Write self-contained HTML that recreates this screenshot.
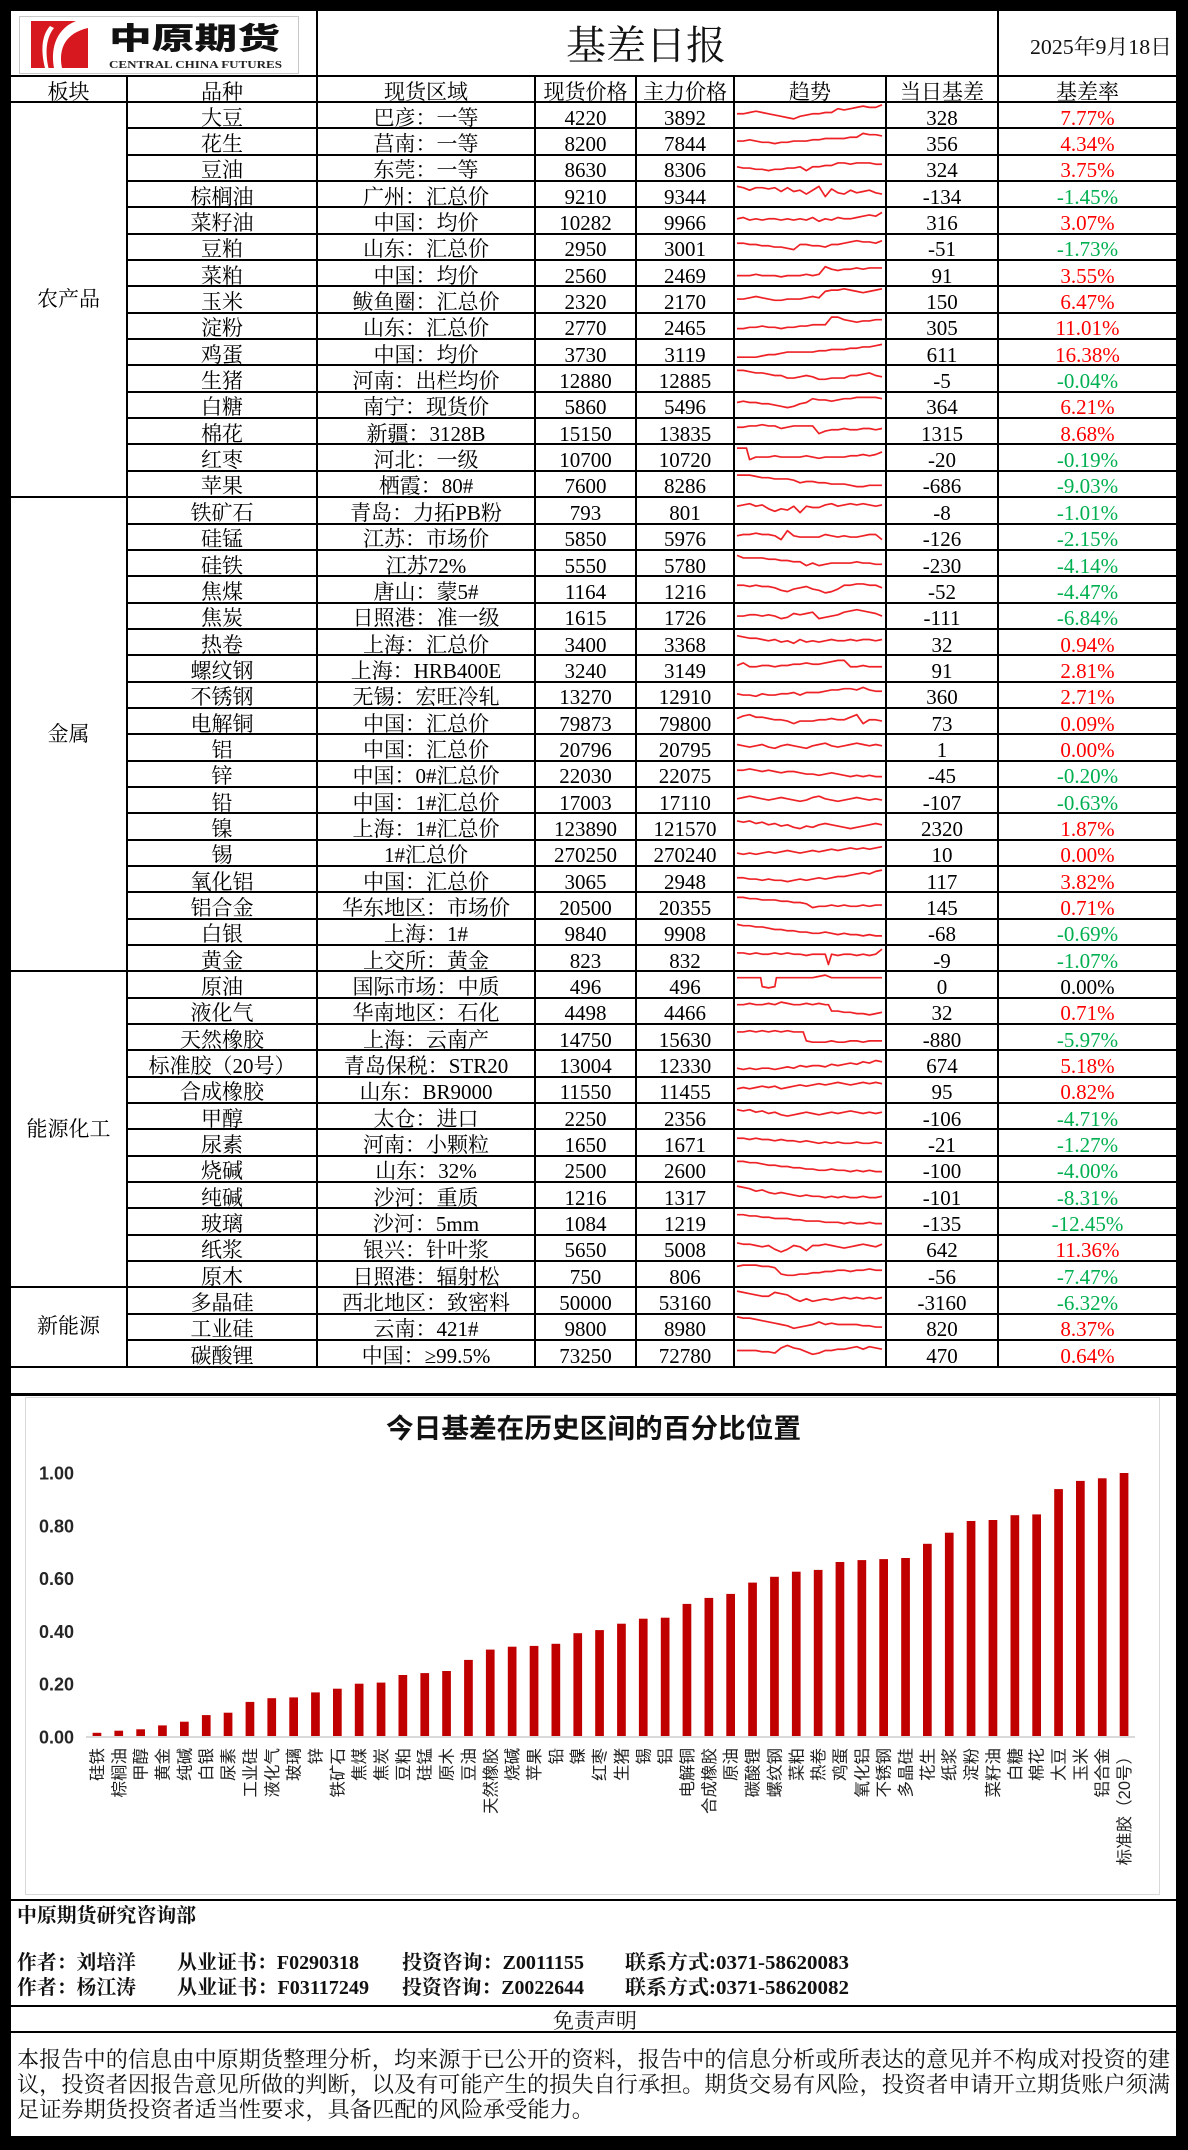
<!DOCTYPE html>
<html><head><meta charset="utf-8">
<style>
*{margin:0;padding:0;box-sizing:border-box}
html,body{width:1188px;height:2150px;background:#000;overflow:hidden;position:relative}
.panel{position:absolute;left:11px;top:11px;width:1165px;height:2125px;background:#fff}
.grid{position:absolute;left:11px;top:75px;width:1165px;height:1293px;background:#000;display:grid;
 grid-template-columns:115px 188px 216px 99px 96px 150px 110px 177px;
 grid-template-rows:24px repeat(48,24.354px);gap:2px;padding:2px 0;}
.grid>div{background:#fff;display:flex;align-items:center;justify-content:center;font-family:"Liberation Serif","Noto Serif CJK SC",serif;font-size:21px;color:#000;line-height:1;white-space:nowrap;position:relative;padding-top:6px;overflow:visible}
.grid>div.b{padding-top:0;font-size:21px}
.r{color:#f00!important}.g{color:#00b050!important}
.s svg{position:absolute;left:2px;top:-2px;width:145px;height:23px;overflow:visible}
.s polyline{fill:none;stroke:#ee2226;stroke-width:1.7;vector-effect:non-scaling-stroke;stroke-linejoin:round}
svg.ov{position:absolute;left:0;top:0}
</style></head><body>
<div class="panel"></div>
<div class="grid">
<div>板块</div><div>品种</div><div>现货区域</div><div>现货价格</div><div>主力价格</div><div>趋势</div><div>当日基差</div><div>基差率</div>

<div class="b" style="grid-row:span 15">农产品</div>
<div>大豆</div><div>巴彦：一等</div><div>4220</div><div>3892</div><div class="s"><svg viewBox="0 0 46 18" preserveAspectRatio="none"><polyline points="0,10 2,10 4,9 6,8 8,9 10,10 12,11 14,12 16,13 18,14 20,12 22,11 24,10 26,10 28,9 30,9 32,6 34,7 36,6 38,5 40,4 42,5 44,5 46,3"/></svg></div><div>328</div><div class="r">7.77%</div>
<div>花生</div><div>莒南：一等</div><div>8200</div><div>7844</div><div class="s"><svg viewBox="0 0 46 18" preserveAspectRatio="none"><polyline points="0,11 2,11 4,10 6,11 8,12 10,12 12,13 14,12 16,12 18,11 20,11 22,11 24,10 26,10 28,9 30,9 32,9 34,9 36,8 38,8 40,5 42,6 44,6 46,7"/></svg></div><div>356</div><div class="r">4.34%</div>
<div>豆油</div><div>东莞：一等</div><div>8630</div><div>8306</div><div class="s"><svg viewBox="0 0 46 18" preserveAspectRatio="none"><polyline points="0,10 2,11 4,11 6,12 8,12 10,13 12,12 14,12 16,11 18,11 20,10 22,13 24,10 26,10 28,9 30,9 32,7 34,7 36,8 38,7 40,7 42,7 44,8 46,8"/></svg></div><div>324</div><div class="r">3.75%</div>
<div>棕榈油</div><div>广州：汇总价</div><div>9210</div><div>9344</div><div class="s"><svg viewBox="0 0 46 18" preserveAspectRatio="none"><polyline points="0,5 2,6 4,8 6,6 8,6 10,7 12,6 14,9 16,6 18,9 20,8 22,11 24,8 26,5 28,13 30,7 32,10 34,11 36,8 38,10 40,9 42,8 44,10 46,11"/></svg></div><div>-134</div><div class="g">-1.45%</div>
<div>菜籽油</div><div>中国：均价</div><div>10282</div><div>9966</div><div class="s"><svg viewBox="0 0 46 18" preserveAspectRatio="none"><polyline points="0,10 2,9 4,11 6,10 8,11 10,10 12,10 14,11 16,10 18,11 20,10 22,11 24,9 26,12 28,10 30,11 32,9 34,10 36,10 38,9 40,8 42,7 44,8 46,5"/></svg></div><div>316</div><div class="r">3.07%</div>
<div>豆粕</div><div>山东：汇总价</div><div>2950</div><div>3001</div><div class="s"><svg viewBox="0 0 46 18" preserveAspectRatio="none"><polyline points="0,8 2,8 4,9 6,9 8,10 10,10 12,11 14,11 16,12 18,13 20,9 22,9 24,10 26,10 28,11 30,9 32,9 34,8 36,7 38,6 40,7 42,7 44,8 46,6"/></svg></div><div>-51</div><div class="g">-1.73%</div>
<div>菜粕</div><div>中国：均价</div><div>2560</div><div>2469</div><div class="s"><svg viewBox="0 0 46 18" preserveAspectRatio="none"><polyline points="0,13 2,13 4,13 6,12 8,13 10,13 12,13 14,14 16,13 18,13 20,13 22,12 24,13 26,12 28,6 30,8 32,9 34,8 36,8 38,7 40,8 42,7 44,7 46,7"/></svg></div><div>91</div><div class="r">3.55%</div>
<div>玉米</div><div>鲅鱼圈：汇总价</div><div>2320</div><div>2170</div><div class="s"><svg viewBox="0 0 46 18" preserveAspectRatio="none"><polyline points="0,11 2,11 4,10 6,9 8,10 10,11 12,12 14,12 16,11 18,11 20,11 22,10 24,9 26,10 28,5 30,4 32,4 34,3 36,4 38,5 40,6 42,5 44,4 46,3"/></svg></div><div>150</div><div class="r">6.47%</div>
<div>淀粉</div><div>山东：汇总价</div><div>2770</div><div>2465</div><div class="s"><svg viewBox="0 0 46 18" preserveAspectRatio="none"><polyline points="0,13 2,13 4,12 6,12 8,11 10,12 12,12 14,13 16,12 18,12 20,11 22,11 24,10 26,10 28,10 30,4 32,4 34,6 36,7 38,8 40,7 42,7 44,6 46,6"/></svg></div><div>305</div><div class="r">11.01%</div>
<div>鸡蛋</div><div>中国：均价</div><div>3730</div><div>3119</div><div class="s"><svg viewBox="0 0 46 18" preserveAspectRatio="none"><polyline points="0,15 2,15 4,15 6,15 8,14 10,13 12,13 14,12 16,11 18,11 20,11 22,11 24,11 26,10 28,10 30,9 32,9 34,9 36,8 38,8 40,7 42,7 44,6 46,5"/></svg></div><div>611</div><div class="r">16.38%</div>
<div>生猪</div><div>河南：出栏均价</div><div>12880</div><div>12885</div><div class="s"><svg viewBox="0 0 46 18" preserveAspectRatio="none"><polyline points="0,5 2,5 4,6 6,7 8,7 10,8 12,9 14,9 16,11 18,11 20,10 22,9 24,10 26,12 28,12 30,11 32,11 34,11 36,9 38,9 40,8 42,7 44,9 46,10"/></svg></div><div>-5</div><div class="g">-0.04%</div>
<div>白糖</div><div>南宁：现货价</div><div>5860</div><div>5496</div><div class="s"><svg viewBox="0 0 46 18" preserveAspectRatio="none"><polyline points="0,9 2,8 4,9 6,9 8,10 10,10 12,11 14,12 16,13 18,12 20,10 22,9 24,6 26,7 28,7 30,8 32,7 34,6 36,6 38,5 40,5 42,5 44,5 46,6"/></svg></div><div>364</div><div class="r">6.21%</div>
<div>棉花</div><div>新疆：3128B</div><div>15150</div><div>13835</div><div class="s"><svg viewBox="0 0 46 18" preserveAspectRatio="none"><polyline points="0,8 2,8 4,7 6,7 8,6 10,7 12,7 14,9 16,8 18,7 20,7 22,7 24,7 26,13 28,11 30,10 32,10 34,9 36,10 38,10 40,9 42,9 44,10 46,9"/></svg></div><div>1315</div><div class="r">8.68%</div>
<div>红枣</div><div>河北：一级</div><div>10700</div><div>10720</div><div class="s"><svg viewBox="0 0 46 18" preserveAspectRatio="none"><polyline points="0,4 2,4 3,4 4,13 6,11 8,11 10,11 12,10 14,11 16,11 18,11 20,11 22,10 24,11 26,12 28,11 30,11 32,11 34,11 36,10 38,10 40,9 42,10 44,9 46,7"/></svg></div><div>-20</div><div class="g">-0.19%</div>
<div>苹果</div><div>栖霞：80#</div><div>7600</div><div>8286</div><div class="s"><svg viewBox="0 0 46 18" preserveAspectRatio="none"><polyline points="0,4 2,4 4,4 6,5 8,6 10,6 12,7 14,7 16,7 18,8 20,10 22,9 24,9 26,10 28,10 30,11 32,11 34,11 36,12 38,13 40,13 42,12 44,12 46,12"/></svg></div><div>-686</div><div class="g">-9.03%</div>

<div class="b" style="grid-row:span 18">金属</div>
<div>铁矿石</div><div>青岛：力拓PB粉</div><div>793</div><div>801</div><div class="s"><svg viewBox="0 0 46 18" preserveAspectRatio="none"><polyline points="0,8 2,7 4,6 6,8 8,7 10,10 12,12 14,10 16,11 18,8 20,13 22,8 24,9 26,9 28,7 30,6 32,8 34,7 36,6 38,7 40,6 42,7 44,8 46,7"/></svg></div><div>-8</div><div class="g">-1.01%</div>
<div>硅锰</div><div>江苏：市场价</div><div>5850</div><div>5976</div><div class="s"><svg viewBox="0 0 46 18" preserveAspectRatio="none"><polyline points="0,10 2,9 4,9 6,8 8,9 10,9 12,10 14,13 16,6 18,10 20,11 22,11 24,11 26,11 28,9 30,10 32,11 34,10 36,11 38,11 40,10 42,9 44,9 46,13"/></svg></div><div>-126</div><div class="g">-2.15%</div>
<div>硅铁</div><div>江苏72%</div><div>5550</div><div>5780</div><div class="s"><svg viewBox="0 0 46 18" preserveAspectRatio="none"><polyline points="0,5 2,7 4,7 6,7 8,7 10,8 12,8 14,9 16,9 18,10 20,10 22,13 24,11 26,13 28,12 30,11 32,11 34,11 36,11 38,10 40,11 42,11 44,12 46,12"/></svg></div><div>-230</div><div class="g">-4.14%</div>
<div>焦煤</div><div>唐山：蒙5#</div><div>1164</div><div>1216</div><div class="s"><svg viewBox="0 0 46 18" preserveAspectRatio="none"><polyline points="0,8 2,8 4,9 6,8 8,9 10,9 12,10 14,12 16,13 18,11 20,10 22,9 24,11 26,12 28,14 30,13 32,11 34,8 36,8 38,7 40,7 42,8 44,8 46,10"/></svg></div><div>-52</div><div class="g">-4.47%</div>
<div>焦炭</div><div>日照港：准一级</div><div>1615</div><div>1726</div><div class="s"><svg viewBox="0 0 46 18" preserveAspectRatio="none"><polyline points="0,11 2,11 4,10 6,10 8,11 10,10 12,11 14,13 16,12 18,9 20,10 22,9 24,8 26,13 28,12 30,11 32,10 34,8 36,7 38,6 40,7 42,8 44,9 46,11"/></svg></div><div>-111</div><div class="g">-6.84%</div>
<div>热卷</div><div>上海：汇总价</div><div>3400</div><div>3368</div><div class="s"><svg viewBox="0 0 46 18" preserveAspectRatio="none"><polyline points="0,6 2,7 4,8 6,8 8,9 10,10 12,9 14,11 16,10 18,12 20,9 22,11 24,10 26,11 28,10 30,9 32,10 34,10 36,9 38,10 40,9 42,9 44,10 46,9"/></svg></div><div>32</div><div class="r">0.94%</div>
<div>螺纹钢</div><div>上海：HRB400E</div><div>3240</div><div>3149</div><div class="s"><svg viewBox="0 0 46 18" preserveAspectRatio="none"><polyline points="0,9 2,7 4,10 6,10 8,9 10,9 12,10 14,9 16,9 18,8 20,8 22,7 24,8 26,8 28,7 30,6 32,5 34,5 36,10 38,10 40,9 42,10 44,10 46,10"/></svg></div><div>91</div><div class="r">2.81%</div>
<div>不锈钢</div><div>无锡：宏旺冷轧</div><div>13270</div><div>12910</div><div class="s"><svg viewBox="0 0 46 18" preserveAspectRatio="none"><polyline points="0,10 2,11 4,11 6,12 8,10 10,11 12,11 14,10 16,10 18,9 20,11 22,9 24,9 26,9 28,8 30,7 32,7 34,6 36,6 38,7 40,5 42,7 44,8 46,8"/></svg></div><div>360</div><div class="r">2.71%</div>
<div>电解铜</div><div>中国：汇总价</div><div>79873</div><div>79800</div><div class="s"><svg viewBox="0 0 46 18" preserveAspectRatio="none"><polyline points="0,9 2,7 4,6 6,8 8,8 10,9 12,10 14,10 16,11 18,13 20,11 22,11 24,11 26,10 28,10 30,9 32,10 34,10 36,8 38,6 40,13 42,10 44,10 46,11"/></svg></div><div>73</div><div class="r">0.09%</div>
<div>铝</div><div>中国：汇总价</div><div>20796</div><div>20795</div><div class="s"><svg viewBox="0 0 46 18" preserveAspectRatio="none"><polyline points="0,9 2,10 4,11 6,10 8,9 10,11 12,12 14,10 16,9 18,10 20,11 22,12 24,10 26,9 28,8 30,10 32,11 34,10 36,9 38,8 40,9 42,10 44,9 46,10"/></svg></div><div>1</div><div class="r">0.00%</div>
<div>锌</div><div>中国：0#汇总价</div><div>22030</div><div>22075</div><div class="s"><svg viewBox="0 0 46 18" preserveAspectRatio="none"><polyline points="0,8 2,8 4,7 6,8 8,9 10,8 12,9 14,10 16,9 18,9 20,10 22,11 24,11 26,12 28,11 30,10 32,11 34,12 36,13 38,12 40,13 42,12 44,13 46,13"/></svg></div><div>-45</div><div class="g">-0.20%</div>
<div>铅</div><div>中国：1#汇总价</div><div>17003</div><div>17110</div><div class="s"><svg viewBox="0 0 46 18" preserveAspectRatio="none"><polyline points="0,10 2,9 4,8 6,9 8,10 10,11 12,10 14,9 16,10 18,11 20,12 22,11 24,9 26,8 28,10 30,11 32,12 34,11 36,10 38,9 40,10 42,11 44,10 46,11"/></svg></div><div>-107</div><div class="g">-0.63%</div>
<div>镍</div><div>上海：1#汇总价</div><div>123890</div><div>121570</div><div class="s"><svg viewBox="0 0 46 18" preserveAspectRatio="none"><polyline points="0,7 2,8 4,7 6,9 8,8 10,10 12,9 14,11 16,10 18,12 20,13 22,11 24,12 26,10 28,9 30,10 32,11 34,12 36,13 38,12 40,11 42,10 44,9 46,10"/></svg></div><div>2320</div><div class="r">1.87%</div>
<div>锡</div><div>1#汇总价</div><div>270250</div><div>270240</div><div class="s"><svg viewBox="0 0 46 18" preserveAspectRatio="none"><polyline points="0,11 2,12 4,11 6,12 8,11 10,10 12,11 14,10 16,9 18,10 20,11 22,10 24,9 26,10 28,9 30,8 32,9 34,8 36,7 38,8 40,7 42,8 44,7 46,6"/></svg></div><div>10</div><div class="r">0.00%</div>
<div>氧化铝</div><div>中国：汇总价</div><div>3065</div><div>2948</div><div class="s"><svg viewBox="0 0 46 18" preserveAspectRatio="none"><polyline points="0,10 2,10 4,11 6,11 8,12 10,11 12,12 14,12 16,13 18,12 20,11 22,12 24,11 26,10 28,11 30,10 32,9 34,9 36,8 38,7 40,6 42,7 44,5 46,4"/></svg></div><div>117</div><div class="r">3.82%</div>
<div>铝合金</div><div>华东地区：市场价</div><div>20500</div><div>20355</div><div class="s"><svg viewBox="0 0 46 18" preserveAspectRatio="none"><polyline points="0,5 2,5 4,6 6,6 8,7 10,7 12,7 14,8 16,8 18,9 20,9 22,10 24,13 26,12 28,12 30,11 32,12 34,11 36,12 38,12 40,11 42,12 44,11 46,11"/></svg></div><div>145</div><div class="r">0.71%</div>
<div>白银</div><div>上海：1#</div><div>9840</div><div>9908</div><div class="s"><svg viewBox="0 0 46 18" preserveAspectRatio="none"><polyline points="0,5 2,6 4,6 6,7 8,7 10,8 12,9 14,9 16,10 18,10 20,11 22,11 24,12 26,12 28,11 30,12 32,13 34,12 36,13 38,13 40,14 42,13 44,14 46,14"/></svg></div><div>-68</div><div class="g">-0.69%</div>
<div>黄金</div><div>上交所：黄金</div><div>823</div><div>832</div><div class="s"><svg viewBox="0 0 46 18" preserveAspectRatio="none"><polyline points="0,7 2,7 4,8 6,7 8,8 10,8 12,7 14,8 16,7 18,8 20,8 22,9 24,8 26,8 28,8 29,16 30,8 32,9 34,8 36,8 38,9 40,8 42,9 44,8 46,4"/></svg></div><div>-9</div><div class="g">-1.07%</div>

<div class="b" style="grid-row:span 12">能源化工</div>
<div>原油</div><div>国际市场：中质</div><div>496</div><div>496</div><div class="s"><svg viewBox="0 0 46 18" preserveAspectRatio="none"><polyline points="0,6 2,6 4,6 6,6 7.5,6 8,13 10,14 12,13 12.5,6 14,6 16,6 18,6 20,6 22,6 24,6 26,5 28,4 30,6 32,6 34,6 36,6 38,6 40,6 42,6 44,6 46,6"/></svg></div><div>0</div><div>0.00%</div>
<div>液化气</div><div>华南地区：石化</div><div>4498</div><div>4466</div><div class="s"><svg viewBox="0 0 46 18" preserveAspectRatio="none"><polyline points="0,6 2,6 4,5 6,6 8,6 10,5 12,6 14,4 16,5 18,6 20,6 22,5 24,6 26,5 28,6 29,6 30,11 32,11 34,12 36,12 38,13 40,13 42,14 44,13 46,12"/></svg></div><div>32</div><div class="r">0.71%</div>
<div>天然橡胶</div><div>上海：云南产</div><div>14750</div><div>15630</div><div class="s"><svg viewBox="0 0 46 18" preserveAspectRatio="none"><polyline points="0,7 2,7 4,6 6,7 8,6 10,7 12,6 14,7 16,6 18,7 20,7 21,7 22,14 24,15 26,15 28,15 30,14 32,15 34,15 36,14 38,14 40,15 42,14 44,14 46,14"/></svg></div><div>-880</div><div class="g">-5.97%</div>
<div>标准胶（20号）</div><div>青岛保税：STR20</div><div>13004</div><div>12330</div><div class="s"><svg viewBox="0 0 46 18" preserveAspectRatio="none"><polyline points="0,15 2,16 4,15 6,16 8,15 10,15 12,16 14,15 16,14 18,15 20,13 22,14 24,13 26,13 28,14 30,12 32,13 34,12 36,11 38,12 40,10 42,11 44,9 46,10"/></svg></div><div>674</div><div class="r">5.18%</div>
<div>合成橡胶</div><div>山东：BR9000</div><div>11550</div><div>11455</div><div class="s"><svg viewBox="0 0 46 18" preserveAspectRatio="none"><polyline points="0,10 2,9 4,10 6,9 8,8 10,9 12,8 14,10 16,9 18,8 20,7 22,8 24,7 26,6 28,7 30,6 32,5 34,6 36,7 38,6 40,5 42,6 44,5 46,6"/></svg></div><div>95</div><div class="r">0.82%</div>
<div>甲醇</div><div>太仓：进口</div><div>2250</div><div>2356</div><div class="s"><svg viewBox="0 0 46 18" preserveAspectRatio="none"><polyline points="0,6 2,7 4,6 6,8 8,7 10,9 12,8 14,10 16,11 18,10 20,9 22,8 24,9 26,10 28,9 30,8 32,9 34,8 36,7 38,8 40,9 42,8 44,9 46,8"/></svg></div><div>-106</div><div class="g">-4.71%</div>
<div>尿素</div><div>河南：小颗粒</div><div>1650</div><div>1671</div><div class="s"><svg viewBox="0 0 46 18" preserveAspectRatio="none"><polyline points="0,8 2,8 4,9 6,8 8,9 10,9 12,10 14,9 16,10 18,10 20,11 22,10 24,11 26,12 28,11 30,12 32,11 34,12 36,12 38,11 40,12 42,12 44,11 46,12"/></svg></div><div>-21</div><div class="g">-1.27%</div>
<div>烧碱</div><div>山东：32%</div><div>2500</div><div>2600</div><div class="s"><svg viewBox="0 0 46 18" preserveAspectRatio="none"><polyline points="0,5 2,5 4,6 6,6 8,7 10,8 12,8 14,9 16,9 18,10 20,10 22,11 24,11 26,12 28,12 30,11 32,12 34,12 36,13 38,12 40,13 42,12 44,13 46,13"/></svg></div><div>-100</div><div class="g">-4.00%</div>
<div>纯碱</div><div>沙河：重质</div><div>1216</div><div>1317</div><div class="s"><svg viewBox="0 0 46 18" preserveAspectRatio="none"><polyline points="0,4 2,5 4,6 6,8 8,7 10,9 12,10 14,9 16,10 18,11 20,12 22,11 24,12 26,12 28,13 30,12 32,13 34,12 36,13 38,13 40,12 42,13 44,13 46,12"/></svg></div><div>-101</div><div class="g">-8.31%</div>
<div>玻璃</div><div>沙河：5mm</div><div>1084</div><div>1219</div><div class="s"><svg viewBox="0 0 46 18" preserveAspectRatio="none"><polyline points="0,6 2,6 4,7 6,7 8,8 10,8 12,9 14,9 16,9 18,10 20,10 22,11 24,11 26,11 28,12 30,12 32,12 34,13 36,12 38,13 40,13 42,12 44,13 46,13"/></svg></div><div>-135</div><div class="g">-12.45%</div>
<div>纸浆</div><div>银兴：针叶浆</div><div>5650</div><div>5008</div><div class="s"><svg viewBox="0 0 46 18" preserveAspectRatio="none"><polyline points="0,7 2,8 4,8 6,9 8,10 10,9 12,12 14,14 16,12 18,9 20,10 22,13 24,9 26,9 28,8 30,9 32,10 34,11 36,10 38,9 40,8 42,9 44,10 46,8"/></svg></div><div>642</div><div class="r">11.36%</div>
<div>原木</div><div>日照港：辐射松</div><div>750</div><div>806</div><div class="s"><svg viewBox="0 0 46 18" preserveAspectRatio="none"><polyline points="0,5 2,4 4,4 6,4 8,5 10,5 12,6 14,11 16,12 18,12 20,11 22,11 24,10 26,10 28,9 30,9 32,8 34,8 36,9 38,8 40,8 42,7 44,8 46,8"/></svg></div><div>-56</div><div class="g">-7.47%</div>

<div class="b" style="grid-row:span 3">新能源</div>
<div>多晶硅</div><div>西北地区：致密料</div><div>50000</div><div>53160</div><div class="s"><svg viewBox="0 0 46 18" preserveAspectRatio="none"><polyline points="0,4 2,5 4,6 6,7 8,8 10,8 12,5 14,6 16,7 18,10 20,12 22,10 24,12 26,11 28,10 30,11 32,10 34,9 36,10 38,9 40,10 42,9 44,10 46,9"/></svg></div><div>-3160</div><div class="g">-6.32%</div>
<div>工业硅</div><div>云南：421#</div><div>9800</div><div>8980</div><div class="s"><svg viewBox="0 0 46 18" preserveAspectRatio="none"><polyline points="0,3 2,4 4,4 6,5 8,6 10,7 12,8 14,9 16,10 18,12 20,11 22,10 24,9 26,7 28,9 30,8 32,9 34,9 36,9 38,9 40,10 42,10 44,11 46,11"/></svg></div><div>820</div><div class="r">8.37%</div>
<div>碳酸锂</div><div>中国：≥99.5%</div><div>73250</div><div>72780</div><div class="s"><svg viewBox="0 0 46 18" preserveAspectRatio="none"><polyline points="0,9 2,9 4,9 6,9 8,10 10,10 12,11 14,7 16,5 18,7 20,8 22,10 24,12 26,11 28,9 30,9 32,8 34,8 36,7 38,6 40,8 42,6 44,7 46,8"/></svg></div><div>470</div><div class="r">0.64%</div>
</div>

<svg class="ov" width="1188" height="2150" viewBox="0 0 1188 2150">
<rect x="316" y="11" width="2" height="65" fill="#000"/>
<rect x="997" y="11" width="2" height="65" fill="#000"/>
<rect x="19.5" y="16.5" width="279" height="57" fill="#fff" stroke="#c8c8c8" stroke-width="1"/>
<rect x="31" y="21" width="57" height="47" fill="#d7181f"/>
<path d="M76,21 C58,28 50,46 54,68 L62,68 C58,48 66,33 88,28 L88,21Z" fill="#fff"/>
<path d="M50,26 C41,36 41,52 45,68 L48.5,68 C45,52 46,38 54,28Z" fill="#fff"/>
<text x="109" y="49" font-family="'Noto Sans CJK SC',sans-serif" font-weight="800" font-size="30" textLength="171" lengthAdjust="spacingAndGlyphs" fill="#111">中原期货</text>
<text x="109" y="68" font-family="'Liberation Serif',serif" font-weight="bold" font-size="11" textLength="173" lengthAdjust="spacingAndGlyphs" fill="#222">CENTRAL CHINA FUTURES</text>
<text x="646" y="59" text-anchor="middle" font-family="'Liberation Serif','Noto Serif CJK SC',serif" font-size="40" fill="#111">基差日报</text>
<text x="1030" y="54" font-family="'Liberation Serif','Noto Serif CJK SC',serif" font-size="21" textLength="142" lengthAdjust="spacingAndGlyphs" fill="#111">2025年9月18日</text>

<rect x="11" y="1393" width="1165" height="3" fill="#000"/>
<rect x="11" y="1899" width="1165" height="2" fill="#000"/>
<rect x="11" y="2005" width="1165" height="2" fill="#000"/>
<rect x="11" y="2031" width="1165" height="2" fill="#000"/>

<rect x="25.5" y="1397.5" width="1134" height="497" fill="none" stroke="#d9d9d9" stroke-width="1"/>
<text x="386" y="1438" font-family="'Liberation Sans','Noto Sans CJK SC',sans-serif" font-weight="bold" font-size="27" textLength="415" lengthAdjust="spacingAndGlyphs" fill="#111">今日基差在历史区间的百分比位置</text>
<g font-family="'Liberation Sans',sans-serif" font-weight="bold" font-size="18" fill="#262626" text-anchor="end">
<text x="74" y="1479.5">1.00</text>
<text x="74" y="1532.3">0.80</text>
<text x="74" y="1585.1">0.60</text>
<text x="74" y="1637.9">0.40</text>
<text x="74" y="1690.7">0.20</text>
<text x="74" y="1743.5">0.00</text>
</g>
<g transform="translate(0,1737) scale(1,-1)" fill="#c00000">
<rect x="92.6" y="0" width="8.7" height="4.2"/>
<rect x="114.4" y="0" width="8.7" height="6.3"/>
<rect x="136.3" y="0" width="8.7" height="7.7"/>
<rect x="158.1" y="0" width="8.7" height="11.6"/>
<rect x="180.0" y="0" width="8.7" height="15.3"/>
<rect x="201.9" y="0" width="8.7" height="21.9"/>
<rect x="223.7" y="0" width="8.7" height="24.3"/>
<rect x="245.6" y="0" width="8.7" height="35.1"/>
<rect x="267.4" y="0" width="8.7" height="38.8"/>
<rect x="289.3" y="0" width="8.7" height="39.6"/>
<rect x="311.1" y="0" width="8.7" height="44.6"/>
<rect x="333.0" y="0" width="8.7" height="48.3"/>
<rect x="354.8" y="0" width="8.7" height="53.3"/>
<rect x="376.7" y="0" width="8.7" height="54.4"/>
<rect x="398.5" y="0" width="8.7" height="62.0"/>
<rect x="420.4" y="0" width="8.7" height="63.9"/>
<rect x="442.2" y="0" width="8.7" height="66.0"/>
<rect x="464.1" y="0" width="8.7" height="77.1"/>
<rect x="485.9" y="0" width="8.7" height="87.4"/>
<rect x="507.8" y="0" width="8.7" height="90.3"/>
<rect x="529.7" y="0" width="8.7" height="91.1"/>
<rect x="551.5" y="0" width="8.7" height="93.2"/>
<rect x="573.4" y="0" width="8.7" height="103.8"/>
<rect x="595.2" y="0" width="8.7" height="106.9"/>
<rect x="617.1" y="0" width="8.7" height="113.3"/>
<rect x="638.9" y="0" width="8.7" height="118.3"/>
<rect x="660.8" y="0" width="8.7" height="119.3"/>
<rect x="682.6" y="0" width="8.7" height="133.1"/>
<rect x="704.5" y="0" width="8.7" height="139.1"/>
<rect x="726.3" y="0" width="8.7" height="143.1"/>
<rect x="748.2" y="0" width="8.7" height="154.4"/>
<rect x="770.1" y="0" width="8.7" height="160.2"/>
<rect x="791.9" y="0" width="8.7" height="165.3"/>
<rect x="813.8" y="0" width="8.7" height="167.1"/>
<rect x="835.6" y="0" width="8.7" height="175.0"/>
<rect x="857.5" y="0" width="8.7" height="176.9"/>
<rect x="879.3" y="0" width="8.7" height="177.9"/>
<rect x="901.2" y="0" width="8.7" height="179.0"/>
<rect x="923.0" y="0" width="8.7" height="193.2"/>
<rect x="944.9" y="0" width="8.7" height="204.3"/>
<rect x="966.7" y="0" width="8.7" height="216.0"/>
<rect x="988.6" y="0" width="8.7" height="217.0"/>
<rect x="1010.5" y="0" width="8.7" height="221.8"/>
<rect x="1032.3" y="0" width="8.7" height="222.6"/>
<rect x="1054.2" y="0" width="8.7" height="247.9"/>
<rect x="1076.0" y="0" width="8.7" height="256.1"/>
<rect x="1097.9" y="0" width="8.7" height="258.7"/>
<rect x="1119.7" y="0" width="8.7" height="264.0"/>
</g>
<rect x="86" y="1736" width="1049" height="2" fill="#d9d9d9"/>
<g font-family="'Liberation Sans','Noto Sans CJK SC',sans-serif" font-size="16.5" fill="#222" text-anchor="end">
<text transform="translate(102.9,1748) rotate(-90)">硅铁</text>
<text transform="translate(124.8,1748) rotate(-90)">棕榈油</text>
<text transform="translate(146.6,1748) rotate(-90)">甲醇</text>
<text transform="translate(168.5,1748) rotate(-90)">黄金</text>
<text transform="translate(190.3,1748) rotate(-90)">纯碱</text>
<text transform="translate(212.2,1748) rotate(-90)">白银</text>
<text transform="translate(234.1,1748) rotate(-90)">尿素</text>
<text transform="translate(255.9,1748) rotate(-90)">工业硅</text>
<text transform="translate(277.8,1748) rotate(-90)">液化气</text>
<text transform="translate(299.6,1748) rotate(-90)">玻璃</text>
<text transform="translate(321.5,1748) rotate(-90)">锌</text>
<text transform="translate(343.3,1748) rotate(-90)">铁矿石</text>
<text transform="translate(365.2,1748) rotate(-90)">焦煤</text>
<text transform="translate(387.0,1748) rotate(-90)">焦炭</text>
<text transform="translate(408.9,1748) rotate(-90)">豆粕</text>
<text transform="translate(430.7,1748) rotate(-90)">硅锰</text>
<text transform="translate(452.6,1748) rotate(-90)">原木</text>
<text transform="translate(474.4,1748) rotate(-90)">豆油</text>
<text transform="translate(496.3,1748) rotate(-90)">天然橡胶</text>
<text transform="translate(518.2,1748) rotate(-90)">烧碱</text>
<text transform="translate(540.0,1748) rotate(-90)">苹果</text>
<text transform="translate(561.9,1748) rotate(-90)">铅</text>
<text transform="translate(583.7,1748) rotate(-90)">镍</text>
<text transform="translate(605.6,1748) rotate(-90)">红枣</text>
<text transform="translate(627.4,1748) rotate(-90)">生猪</text>
<text transform="translate(649.3,1748) rotate(-90)">锡</text>
<text transform="translate(671.1,1748) rotate(-90)">铝</text>
<text transform="translate(693.0,1748) rotate(-90)">电解铜</text>
<text transform="translate(714.8,1748) rotate(-90)">合成橡胶</text>
<text transform="translate(736.7,1748) rotate(-90)">原油</text>
<text transform="translate(758.6,1748) rotate(-90)">碳酸锂</text>
<text transform="translate(780.4,1748) rotate(-90)">螺纹钢</text>
<text transform="translate(802.3,1748) rotate(-90)">菜粕</text>
<text transform="translate(824.1,1748) rotate(-90)">热卷</text>
<text transform="translate(846.0,1748) rotate(-90)">鸡蛋</text>
<text transform="translate(867.8,1748) rotate(-90)">氧化铝</text>
<text transform="translate(889.7,1748) rotate(-90)">不锈钢</text>
<text transform="translate(911.5,1748) rotate(-90)">多晶硅</text>
<text transform="translate(933.4,1748) rotate(-90)">花生</text>
<text transform="translate(955.2,1748) rotate(-90)">纸浆</text>
<text transform="translate(977.1,1748) rotate(-90)">淀粉</text>
<text transform="translate(999.0,1748) rotate(-90)">菜籽油</text>
<text transform="translate(1020.8,1748) rotate(-90)">白糖</text>
<text transform="translate(1042.7,1748) rotate(-90)">棉花</text>
<text transform="translate(1064.5,1748) rotate(-90)">大豆</text>
<text transform="translate(1086.4,1748) rotate(-90)">玉米</text>
<text transform="translate(1108.2,1748) rotate(-90)">铝合金</text>
<text transform="translate(1130.1,1748) rotate(-90)">标准胶（20号）</text>
</g>

<g font-family="'Liberation Serif','Noto Serif CJK SC',serif" fill="#111">
<text x="17" y="1922" font-weight="bold" font-size="20" textLength="179" lengthAdjust="spacingAndGlyphs">中原期货研究咨询部</text>
<g font-weight="bold" font-size="20">
<text x="17" y="1969" textLength="119" lengthAdjust="spacingAndGlyphs">作者：刘培洋</text>
<text x="177" y="1969" textLength="182" lengthAdjust="spacingAndGlyphs">从业证书：F0290318</text>
<text x="402" y="1969" textLength="182" lengthAdjust="spacingAndGlyphs">投资咨询：Z0011155</text>
<text x="625" y="1969" textLength="224" lengthAdjust="spacingAndGlyphs">联系方式:0371-58620083</text>
<text x="17" y="1994" textLength="119" lengthAdjust="spacingAndGlyphs">作者：杨江涛</text>
<text x="177" y="1994" textLength="192" lengthAdjust="spacingAndGlyphs">从业证书：F03117249</text>
<text x="402" y="1994" textLength="182" lengthAdjust="spacingAndGlyphs">投资咨询：Z0022644</text>
<text x="625" y="1994" textLength="224" lengthAdjust="spacingAndGlyphs">联系方式:0371-58620082</text>
</g>
<text x="595" y="2028" text-anchor="middle" font-size="21">免责声明</text>
<g font-size="22">
<text x="17" y="2067" textLength="1153" lengthAdjust="spacingAndGlyphs">本报告中的信息由中原期货整理分析，均来源于已公开的资料，报告中的信息分析或所表达的意见并不构成对投资的建</text>
<text x="17" y="2092" textLength="1153" lengthAdjust="spacingAndGlyphs">议，投资者因报告意见所做的判断，以及有可能产生的损失自行承担。期货交易有风险，投资者申请开立期货账户须满</text>
<text x="17" y="2117" textLength="577" lengthAdjust="spacingAndGlyphs">足证券期货投资者适当性要求，具备匹配的风险承受能力。</text>
</g>
</g>
</svg>
</body></html>
